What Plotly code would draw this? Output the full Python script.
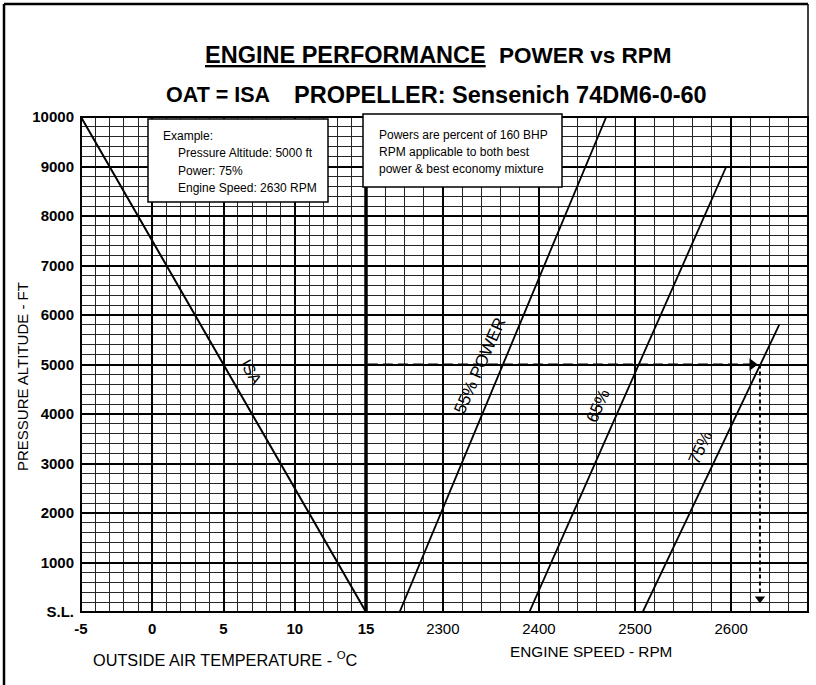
import plotly.graph_objects as go

# ---------------- data ----------------
isa_temp = [-5, 15]
isa_alt = [10000, 0]

p55_rpm = [2255, 2470]
p55_alt = [0, 10000]
p65_rpm = [2390, 2595]
p65_alt = [0, 9000]
p75_rpm = [2508, 2650]
p75_alt = [0, 5800]

example_alt = 5000
example_rpm = 2630
example_start_rpm = 2222
example_bottom_alt = 150

alt_tick_vals = [0, 1000, 2000, 3000, 4000, 5000, 6000, 7000, 8000, 9000, 10000]
alt_tick_text = ["S.L.", "1000", "2000", "3000", "4000", "5000", "6000", "7000", "8000", "9000", "10000"]
oat_tick_vals = [-5, 0, 5, 10, 15]
oat_tick_text = ["-5", "0", "5", "10", "15"]
rpm_tick_vals = [2300, 2400, 2500, 2600]
rpm_tick_text = ["2300", "2400", "2500", "2600"]

# ---------------- layout helpers ----------------
W, H = 816, 685
L, R, T, B = 81, 808, 117, 612
DIV = 366


def px(x):
    return (x - L) / (R - L)


def py(y):
    return (B - y) / (B - T)


FONT = "Liberation Sans, Arial, Helvetica, sans-serif"
MAJ = "#000000"
MIN = "#262626"

fig = go.Figure()

fig.add_trace(go.Scatter(x=isa_temp, y=isa_alt, mode="lines", line=dict(color="black", width=2),
                         xaxis="x", yaxis="y", hoverinfo="skip"))
for xs, ys in [(p55_rpm, p55_alt), (p65_rpm, p65_alt), (p75_rpm, p75_alt)]:
    fig.add_trace(go.Scatter(x=xs, y=ys, mode="lines", line=dict(color="black", width=1.8),
                             xaxis="x2", yaxis="y", hoverinfo="skip"))

# example path
fig.add_trace(go.Scatter(x=[example_start_rpm, example_rpm - 6], y=[example_alt, example_alt],
                         mode="lines", line=dict(color="black", width=2, dash="10px,5px"),
                         xaxis="x2", yaxis="y", hoverinfo="skip"))
fig.add_trace(go.Scatter(x=[example_rpm - 8], y=[example_alt], mode="markers",
                         marker=dict(symbol="triangle-right", size=11, color="black"),
                         xaxis="x2", yaxis="y", hoverinfo="skip"))
fig.add_trace(go.Scatter(x=[example_rpm, example_rpm], y=[example_alt, example_bottom_alt + 200],
                         mode="lines", line=dict(color="black", width=2, dash="4px,3px"),
                         xaxis="x2", yaxis="y", hoverinfo="skip"))
fig.add_trace(go.Scatter(x=[example_rpm], y=[example_bottom_alt + 120], mode="markers",
                         marker=dict(symbol="triangle-down", size=9, color="black"),
                         xaxis="x2", yaxis="y", hoverinfo="skip"))

dom_split = px(DIV)

fig.update_layout(
    width=W, height=H,
    margin=dict(l=L, r=W - R, t=T, b=H - B, pad=0),
    paper_bgcolor="white", plot_bgcolor="white",
    showlegend=False,
    font=dict(family=FONT, color="black"),
    xaxis=dict(domain=[0, dom_split], range=[-5, 15], anchor="y",
               tickmode="array", tickvals=oat_tick_vals, ticktext=oat_tick_text,
               showgrid=True, gridcolor=MAJ, gridwidth=2,
               minor=dict(tickmode="linear", tick0=-5, dtick=1, showgrid=True, gridcolor=MIN, gridwidth=1.3),
               ticks="", showline=False, zeroline=False, automargin=False,
               tickfont=dict(size=15, family=FONT, weight="bold"), ticklabelstandoff=6),
    xaxis2=dict(domain=[dom_split, 1], range=[2220, 2680], anchor="y",
                tickmode="array", tickvals=rpm_tick_vals, ticktext=rpm_tick_text,
                showgrid=True, gridcolor=MAJ, gridwidth=2,
                minor=dict(tickmode="linear", tick0=2220, dtick=20, showgrid=True, gridcolor=MIN, gridwidth=1.3),
                ticks="", showline=False, zeroline=False, automargin=False,
                tickfont=dict(size=15, family=FONT), ticklabelstandoff=6),
    yaxis=dict(range=[0, 10000], anchor="x",
               tickmode="array", tickvals=alt_tick_vals, ticktext=alt_tick_text,
               showgrid=True, gridcolor=MAJ, gridwidth=2,
               minor=dict(tickmode="linear", tick0=0, dtick=200, showgrid=True, gridcolor=MIN, gridwidth=1.3),
               ticks="", showline=False, zeroline=False, automargin=False,
               tickfont=dict(size=15, family=FONT, weight="bold"), ticklabelstandoff=6),
)

shapes = []
shapes.append(dict(type="rect", xref="paper", yref="paper", x0=0, x1=1, y0=0, y1=1,
                   line=dict(color="black", width=2), layer="above"))
shapes.append(dict(type="line", xref="paper", yref="paper", x0=dom_split, x1=dom_split, y0=0, y1=1,
                   line=dict(color="black", width=3.5), layer="above"))
shapes.append(dict(type="rect", xref="paper", yref="paper", x0=px(148), x1=px(328), y0=py(202), y1=py(119),
                   line=dict(color="black", width=1.5), fillcolor="white", layer="above"))
shapes.append(dict(type="rect", xref="paper", yref="paper", x0=px(363), x1=px(562), y0=py(187), y1=py(114),
                   line=dict(color="black", width=1.5), fillcolor="white", layer="above"))
shapes.append(dict(type="line", xref="paper", yref="paper", x0=px(4), x1=px(4), y0=py(685), y1=py(4),
                   line=dict(color="black", width=2.5), layer="above"))
shapes.append(dict(type="line", xref="paper", yref="paper", x0=px(4), x1=px(808), y0=py(4), y1=py(4),
                   line=dict(color="black", width=2.5), layer="above"))
shapes.append(dict(type="line", xref="paper", yref="paper", x0=px(808), x1=px(808), y0=py(117), y1=py(4),
                   line=dict(color="black", width=1.5), layer="above"))
fig.update_layout(shapes=shapes)

ann = []


def txt(text, x, y, size, xanchor="center", weight="normal", angle=0, **fontextra):
    f = dict(size=size, family=FONT, color="black", weight=weight)
    f.update(fontextra)
    ann.append(dict(text=text, x=px(x), y=py(y), xref="paper", yref="paper", showarrow=False,
                    xanchor=xanchor, yanchor="middle", textangle=angle, font=f))


# titles
txt("ENGINE PERFORMANCE", 345, 55, 23.5, weight="bold", lineposition="under")
txt("POWER vs RPM", 585, 55, 22.5, weight="bold")
txt("OAT = ISA", 218, 95, 21.5, weight="bold")
txt("PROPELLER: Sensenich 74DM6-0-60", 500, 95, 23.5, weight="bold")

# axis titles
txt("PRESSURE ALTITUDE - FT", 22, 377, 15, angle=-90)
txt("OUTSIDE AIR TEMPERATURE - <sup>O</sup>C", 225, 659, 16.3)
txt("ENGINE SPEED - RPM", 591, 651, 15.3)

# info box texts
txt("Example:", 161, 136, 12, xanchor="left")
txt("Pressure Altitude: 5000 ft", 176, 153, 12, xanchor="left")
txt("Power: 75%", 176, 171, 12, xanchor="left")
txt("Engine Speed: 2630 RPM", 176, 188, 12, xanchor="left")
txt("Powers are percent of 160 BHP", 377, 135, 12, xanchor="left")
txt("RPM applicable to both best", 377, 152, 12, xanchor="left")
txt("power &amp; best economy mixture", 377, 169, 12, xanchor="left")

# line labels (data coordinates)
ann.append(dict(text="ISA", x=6.9, y=4850, xref="x", yref="y", showarrow=False,
                textangle=60, font=dict(size=16, family=FONT, color="black")))
ann.append(dict(text="55% POWER", x=2339, y=4970, xref="x2", yref="y", showarrow=False,
                textangle=-66, font=dict(size=17, family=FONT, color="black")))
ann.append(dict(text="65%", x=2461, y=4160, xref="x2", yref="y", showarrow=False,
                textangle=-66, font=dict(size=17, family=FONT, color="black")))
ann.append(dict(text="75%", x=2568, y=3330, xref="x2", yref="y", showarrow=False,
                textangle=-65, font=dict(size=17, family=FONT, color="black")))

fig.update_layout(annotations=ann)

fig.write_html("out.html", config={"displayModeBar": False},
               post_script="document.body.style.margin='0px';")
